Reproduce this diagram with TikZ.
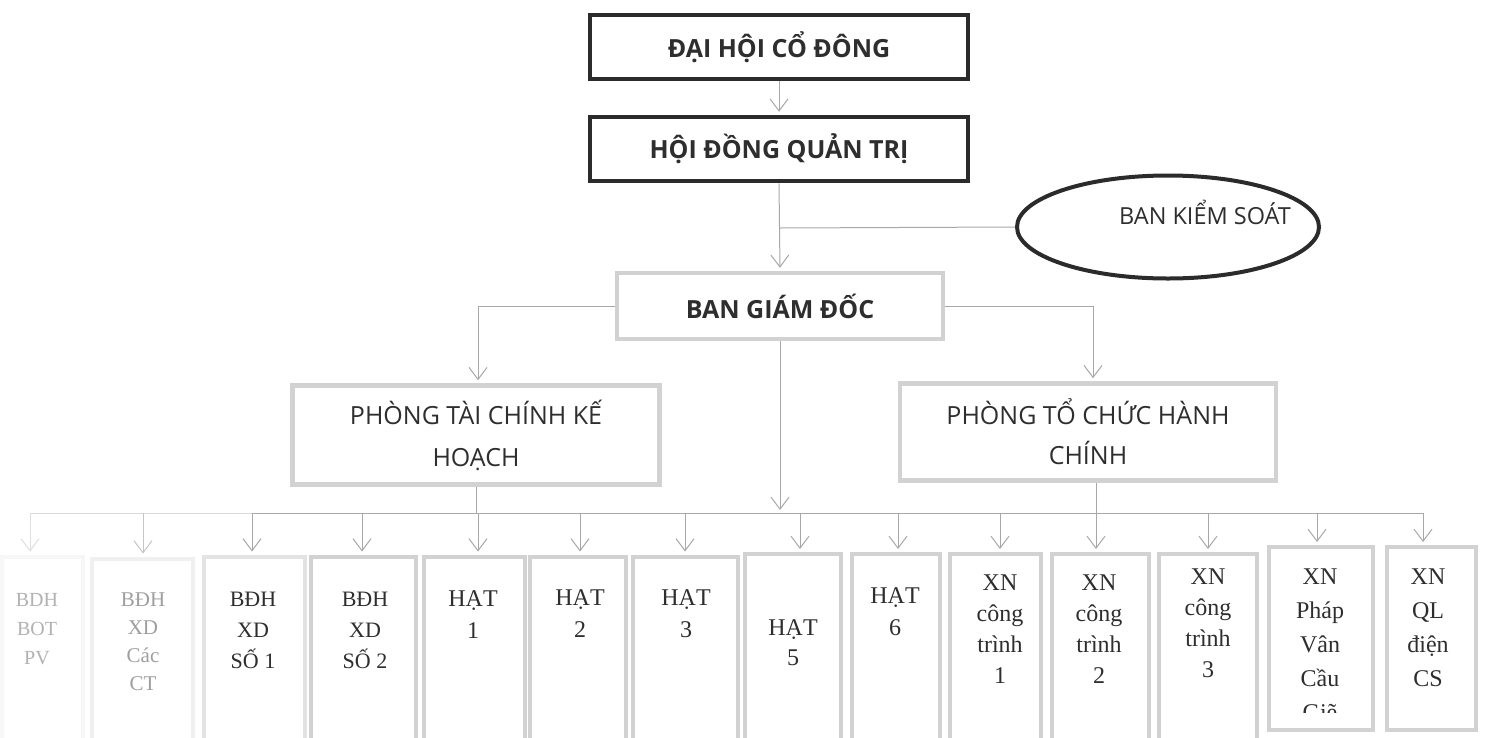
\documentclass[tikz,border=0pt]{standalone}
\usepackage{fontspec}
\setmainfont{Liberation Serif}
\newfontfamily\osans{Open Sans}
\usetikzlibrary{arrows.meta,shapes.geometric}
\definecolor{dark}{HTML}{2B2B2B}
\definecolor{lgray}{HTML}{D2D2D2}
\definecolor{cgray}{HTML}{A8A8A8}
\definecolor{txt}{HTML}{2E2E2E}
\begin{document}
\begin{tikzpicture}[x=1pt,y=-1pt,
  topbox/.style={draw=dark,line width=4.5pt,minimum width=378pt,minimum height=64pt,inner sep=0pt,
    font=\osans\bfseries\fontsize{25}{30}\selectfont,text=txt},
  midbox/.style={draw=lgray,line width=4.5pt,inner sep=0pt,text=txt,align=center},
  kbox/.style={draw=dark,line width=4pt,ellipse,inner sep=0pt},
  bbox/.style={draw=lgray,line width=4pt,inner sep=0pt},
  btxt/.style={anchor=north,align=center,inner sep=0pt,text=txt},
  conn/.style={draw=cgray,line width=1pt},
  arr/.style={conn,-{Straight Barb[length=12pt,width=18pt]},shorten >=3pt}
]
\useasboundingbox (0,0) rectangle (1485,737);
\clip (0,0) rectangle (1485,737);
\fill[white] (0,0) rectangle (1485,737);

% top levels
\node[topbox] (dhcd) at (779,47) {ĐẠI HỘI CỔ ĐÔNG};
\node[topbox] (hdqt) at (779,149) {HỘI ĐỒNG QUẢN TRỊ};
\node[kbox,minimum width=302pt,minimum height=103pt] (bks) at (1168,227) {};
\node[inner sep=0pt,text=txt,font=\osans\fontsize{23.5}{28}\selectfont] (bkst) at (1205,212) {BAN KIỂM SOÁT};
\node[midbox,minimum width=326pt,minimum height=66pt,font=\osans\bfseries\fontsize{25}{30}\selectfont] (bgd) at (780,306) {BAN GIÁM ĐỐC};
\node[midbox,minimum width=367pt,minimum height=99pt,font=\osans\fontsize{25}{42}\selectfont] (ptc) at (476,435) {PHÒNG TÀI CHÍNH KẾ\\HOẠCH};
\node[midbox,minimum width=376pt,minimum height=97pt,font=\osans\fontsize{25}{40}\selectfont] (ptchc) at (1088,432) {PHÒNG TỔ CHỨC HÀNH\\CHÍNH};

% connectors upper part
\draw[arr] (dhcd.south) -- (hdqt.north);
\coordinate (j1) at (780,228);
\draw[arr] (hdqt.south) -- (bgd.north);
\draw[conn] (j1) -- (bks.west);
\coordinate (lc) at (478,306);
\coordinate (rc) at (1093,306);
\draw[conn] (bgd.west) -- (lc);
\draw[arr] (lc) -- (lc |- ptc.north);
\draw[conn] (bgd.east) -- (rc);
\draw[arr] (rc) -- (rc |- ptchc.north);

% bottom boxes
\node[bbox,draw=gray!6,minimum width=81pt,minimum height=201pt] (b1) at (42,657) {};
\node[bbox,draw=gray!12,minimum width=101pt,minimum height=199pt] (b2) at (142,658) {};
\node[bbox,draw=gray!22,minimum width=101pt,minimum height=201pt] (b3) at (254,657) {};
\node[bbox,minimum width=105pt,minimum height=201pt] (b4) at (363,657) {};
\node[bbox,minimum width=101pt,minimum height=201pt] (b5) at (474,657) {};
\node[bbox,minimum width=96pt,minimum height=201pt] (b6) at (578,657) {};
\node[bbox,minimum width=105pt,minimum height=201pt] (b7) at (685,657) {};
\node[bbox,minimum width=96pt,minimum height=204pt] (b8) at (793,656) {};
\node[bbox,minimum width=88pt,minimum height=204pt] (b9) at (896,656) {};
\node[bbox,minimum width=91pt,minimum height=204pt] (b10) at (995,656) {};
\node[bbox,minimum width=97pt,minimum height=204pt] (b11) at (1100,656) {};
\node[bbox,minimum width=98pt,minimum height=204pt] (b12) at (1208,656) {};
\node[bbox,minimum width=104pt,minimum height=183pt] (b13) at (1321,638.5) {};
\node[bbox,minimum width=89pt,minimum height=183pt] (b14) at (1431,638.5) {};

% texts
\node[btxt,text=gray!60,font=\fontsize{20}{29}\selectfont] (t1) at (37,593) {BDH\\BOT\\PV};
\node[btxt,text=gray!75,font=\fontsize{21}{28}\selectfont] (t2) at (143,593) {BĐH\\XD\\Các\\CT};
\node[btxt,font=\fontsize{22}{31}\selectfont] (t3) at (253,592) {BĐH\\XD\\SỐ 1};
\node[btxt,font=\fontsize{22}{31}\selectfont] (t4) at (365,592) {BĐH\\XD\\SỐ 2};
\node[btxt,font=\fontsize{24}{32}\selectfont] (t5) at (473,590) {HẠT\\1};
\node[btxt,font=\fontsize{24}{32}\selectfont] (t6) at (580,589) {HẠT\\2};
\node[btxt,font=\fontsize{24}{32}\selectfont] (t7) at (686,589) {HẠT\\3};
\node[btxt,font=\fontsize{24}{30}\selectfont] (t8) at (793,619) {HẠT\\5};
\node[btxt,font=\fontsize{24}{32}\selectfont] (t9) at (895,587) {HẠT\\6};
\node[btxt,font=\fontsize{24}{31}\selectfont] (t10) at (1000,575) {XN\\công\\trình\\1};
\node[btxt,font=\fontsize{24}{31}\selectfont] (t11) at (1099,575) {XN\\công\\trình\\2};
\node[btxt,font=\fontsize{24}{31}\selectfont] (t12) at (1208,569) {XN\\công\\trình\\3};
\begin{scope}
\clip (1272,548) rectangle (1372,712);
\node[btxt,font=\fontsize{24}{34}\selectfont] (t13) at (1320,569) {XN\\Pháp\\Vân\\Cầu\\Giẽ};
\end{scope}
\node[btxt,font=\fontsize{24}{34}\selectfont] (t14) at (1428,569) {XN\\QL\\điện\\CS};

% bus and arrows
\coordinate (a1) at (30,513);
\coordinate (a2) at (143,513);
\coordinate (a3) at (252,513);
\coordinate (a4) at (362,513);
\coordinate (a5) at (478,513);
\coordinate (a6) at (580,513);
\coordinate (a7) at (685,513);
\coordinate (a8) at (800,513);
\coordinate (a9) at (898,513);
\coordinate (a10) at (1000,513);
\coordinate (a11) at (1096,513);
\coordinate (a12) at (1208,513);
\coordinate (a13) at (1317,513);
\coordinate (a14) at (1423,513);
\draw[conn,draw=gray!30] (a1) -- (a3);
\draw[conn] (a3) -- (a14);
\draw[conn] (ptc.south) -- (ptc.south |- a5);
\draw[conn] (ptchc.south -| a11) -- (a11);
\coordinate (bj) at (780,513);
\draw[arr] (bgd.south) -- (bj);
\draw[arr,draw=gray!25] (a1) -- (a1 |- b1.north);
\draw[arr,draw=gray!45] (a2) -- (a2 |- b2.north);
\foreach \k in {3,...,14}{
  \draw[arr] (a\k) -- (a\k |- b\k.north);
}
\end{tikzpicture}
\end{document}
